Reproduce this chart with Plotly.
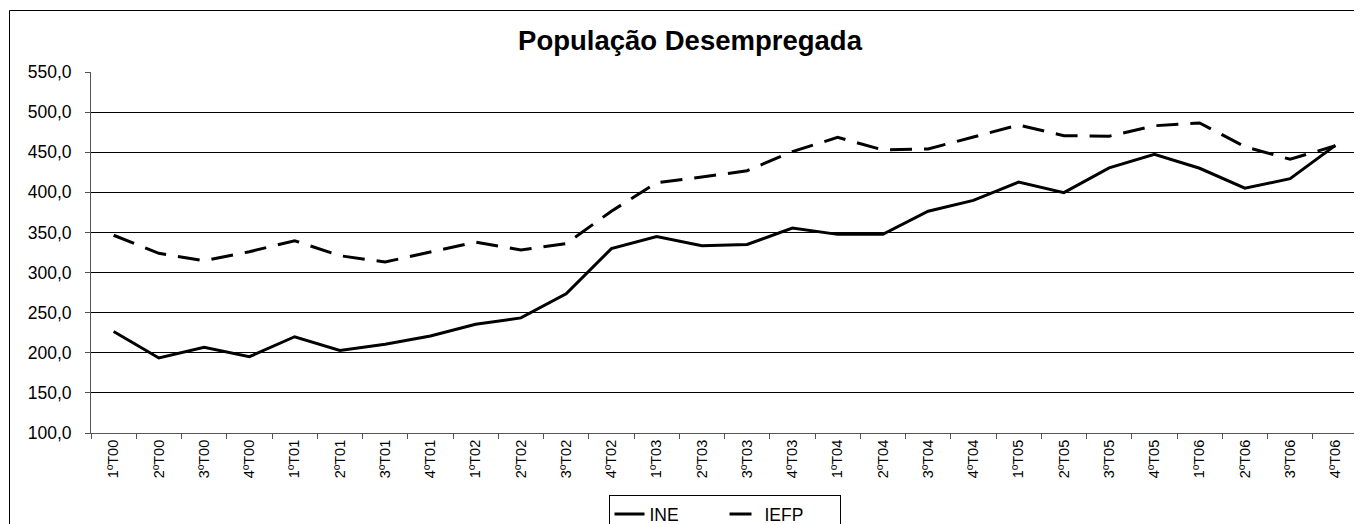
import plotly.graph_objects as go

categories = ["1ºT00", "2ºT00", "3ºT00", "4ºT00", "1ºT01", "2ºT01", "3ºT01", "4ºT01",
              "1ºT02", "2ºT02", "3ºT02", "4ºT02", "1ºT03", "2ºT03", "3ºT03", "4ºT03",
              "1ºT04", "2ºT04", "3ºT04", "4ºT04", "1ºT05", "2ºT05", "3ºT05", "4ºT05",
              "1ºT06", "2ºT06", "3ºT06", "4ºT06"]

ine = [226.5, 193.5, 206.8, 195.1, 220.0, 202.8, 210.6, 221.0,
       235.5, 243.5, 273.5, 329.8, 345.0, 333.5, 335.0, 355.5,
       347.6, 347.6, 376.5, 390.0, 412.8, 399.6, 430.5, 447.5,
       430.0, 405.2, 417.0, 458.5]

iefp = [346.5, 324.0, 314.8, 326.0, 339.7, 321.0, 313.2, 325.5,
        338.0, 328.1, 336.0, 376.5, 412.0, 419.0, 427.0, 450.7,
        468.5, 452.8, 454.0, 469.0, 484.0, 470.6, 470.0, 483.0,
        486.5, 456.9, 441.2, 458.0]

title_text = "População Desempregada"
y_ticks = [100, 150, 200, 250, 300, 350, 400, 450, 500, 550]

FONT = "Arial, Liberation Sans, sans-serif"

fig = go.Figure()
fig.add_trace(go.Scatter(x=categories, y=ine, name="INE", mode="lines",
                         line=dict(color="black", width=3)))
fig.add_trace(go.Scatter(x=categories, y=iefp, name="IEFP", mode="lines",
                         line=dict(color="black", width=3, dash="22px,12px")))

# the page places the figure 8px from the top-left corner
OFF = 8
W, H = 1362 - OFF, 524 - OFF
L, R, T, B = 91 - OFF, 1358 - OFF, 72 - OFF, 433 - OFF
pw, ph = R - L, B - T

def px_x(x):
    return (x - OFF - L) / pw

def px_y(y):
    return (B - (y - OFF)) / ph

fig.add_shape(type="rect", xref="paper", yref="paper",
              x0=px_x(9.5), x1=px_x(1360.5), y0=px_y(527), y1=px_y(10.5),
              line=dict(color="black", width=1), fillcolor="rgba(0,0,0,0)", layer="below")

fig.update_layout(
    width=W, height=H,
    margin=dict(l=L, r=W - R, t=T, b=H - B, autoexpand=False),
    paper_bgcolor="white", plot_bgcolor="white",
    separators=",.",
    font=dict(family=FONT, color="black"),
    title=dict(text="<b>" + title_text + "</b>", x=(690 - OFF) / W, xref="container",
               xanchor="center", y=1 - (40 - OFF) / H, yref="container", yanchor="middle",
               font=dict(size=27.5, family=FONT, color="black")),
    showlegend=True,
    legend=dict(orientation="h", x=0.5, xanchor="center", y=px_y(495), yanchor="top",
                bgcolor="white", bordercolor="black", borderwidth=1,
                font=dict(size=17.5, family=FONT, color="black"),
                entrywidth=70, entrywidthmode="pixels",
                itemwidth=30, tracegroupgap=0),
    xaxis=dict(type="category", showgrid=False, showline=True, linecolor="#555555",
               linewidth=1, ticks="outside", tickson="boundaries", ticklen=5,
               tickcolor="#555555", tickangle=-90,
               tickfont=dict(size=14.5, family=FONT, color="black"),
               range=[-0.5, len(categories) - 0.5], fixedrange=True),
    yaxis=dict(range=[100, 550], tickvals=y_ticks, tickformat=".1f",
               showgrid=True, gridcolor="black", gridwidth=1,
               showline=True, linecolor="#555555", linewidth=1,
               ticks="outside", ticklen=5, tickcolor="#555555",
               ticklabelstandoff=10,
               tickfont=dict(size=17.5, family=FONT, color="black"),
               zeroline=False, fixedrange=True),
)

fig.write_html("out.html")
